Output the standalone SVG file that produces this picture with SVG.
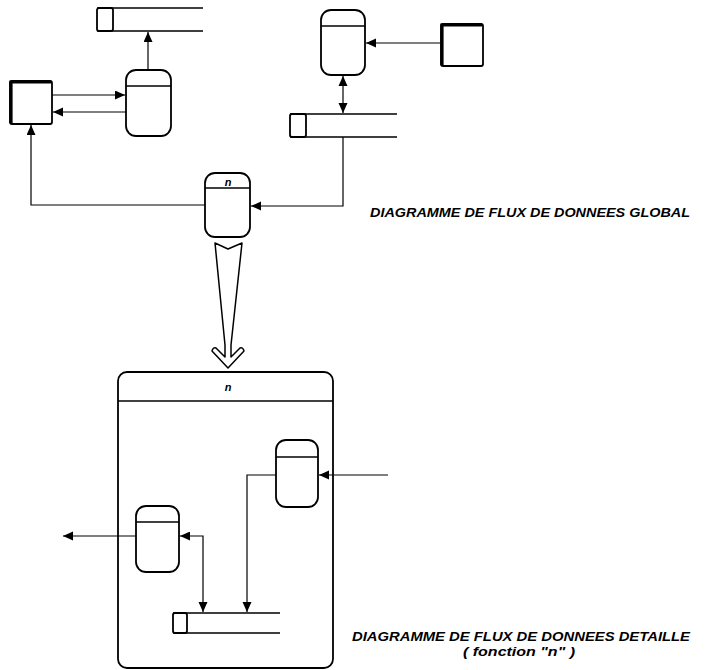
<svg xmlns="http://www.w3.org/2000/svg" width="710" height="670" viewBox="0 0 710 670">
<style>
.shape{fill:#fff;stroke:#000;stroke-width:1.8}
.div{stroke:#000;stroke-width:1.4;fill:none}
.conn{fill:none;stroke:#000;stroke-width:1.2}
.lbl{font-family:"Liberation Sans",Arial,sans-serif;font-style:italic;font-weight:bold;fill:#000}
</style>
<defs>
<marker id="ah" markerUnits="userSpaceOnUse" markerWidth="12" markerHeight="10" refX="10" refY="4.5" orient="auto">
<path d="M0,0 L10,4.5 L0,9 Z" fill="#000"/>
</marker>
<marker id="ahs" markerUnits="userSpaceOnUse" markerWidth="12" markerHeight="10" refX="0" refY="4.5" orient="auto">
<path d="M10,0 L0,4.5 L10,9 Z" fill="#000"/>
</marker>
</defs>
<rect width="710" height="670" fill="#fff"/>

<g id="function-n">
<rect x="118" y="372" width="215" height="296" rx="9" fill="none" stroke="#000" stroke-width="1.8"/>
<path class="div" d="M118,401 H333" stroke-width="1.8"/>
<text class="lbl" x="228" y="391" font-size="11" text-anchor="middle">n</text>
</g>

<g id="connectors">
<path class="conn" d="M148,70 V32" marker-end="url(#ah)"/>
<path class="conn" d="M52,95 H125" marker-end="url(#ah)"/>
<path class="conn" d="M126,112 H53" marker-end="url(#ah)"/>
<path class="conn" d="M205,205 H31 V125" marker-end="url(#ah)"/>
<path class="conn" d="M343,137 V206 H251" marker-end="url(#ah)"/>
<path class="conn" d="M441,43 H366" marker-end="url(#ah)"/>
<path class="conn" d="M343,76 V113" marker-start="url(#ahs)" marker-end="url(#ah)"/>
<path class="conn" d="M388,475 H319" marker-end="url(#ah)"/>
<path class="conn" d="M276,475 H247 V612" marker-end="url(#ah)"/>
<path class="conn" d="M136,536 H63" marker-end="url(#ah)"/>
<path class="conn" d="M180,536 H203 V612" marker-start="url(#ahs)" marker-end="url(#ah)"/>
</g>

<g id="store1">
<rect class="shape" x="97" y="8" width="16" height="23" rx="2"/>
<path class="div" d="M97,8 H203 M97,31 H203"/>
</g>

<g id="process1">
<rect class="shape" x="126" y="70" width="45" height="66" rx="10"/>
<path class="div" d="M126,86 H171"/>
</g>

<g id="entity1">
<rect class="shape" x="10" y="81" width="42" height="43" rx="2"/>
<path d="M11,123 V82 H51" fill="none" stroke="#000" stroke-width="3.2"/>
</g>

<g id="process2">
<rect class="shape" x="321" y="10" width="44" height="65" rx="10"/>
<path class="div" d="M321,26 H365"/>
</g>

<g id="entity2">
<rect class="shape" x="441" y="24" width="42" height="42" rx="2"/>
<path d="M442,65 V25 H482" fill="none" stroke="#000" stroke-width="3.2"/>
</g>

<g id="store2">
<rect class="shape" x="290" y="114" width="16" height="23" rx="2"/>
<path class="div" d="M290,114 H397 M290,137 H397"/>
</g>

<g id="process-n">
<rect class="shape" x="205" y="173" width="45" height="64" rx="10"/>
<path class="div" d="M205,188 H250"/>
<text class="lbl" x="228" y="186" font-size="11" text-anchor="middle">n</text>
</g>

<g id="refinement-arrow">
<path d="M215,243 L228,249 L242,243 L231,345 L231,357 L240,348 Q243,347 244,351 L228,368 L212,351 Q213,347 216,348 L225,357 L225,345 Z" fill="#fff" stroke="#000" stroke-width="1.5" stroke-linejoin="round"/>
</g>

<g id="process3">
<rect class="shape" x="276" y="440" width="42" height="67" rx="10"/>
<path class="div" d="M276,457 H318"/>
</g>

<g id="process4">
<rect class="shape" x="136" y="506" width="43" height="66" rx="10"/>
<path class="div" d="M136,522 H179"/>
</g>

<g id="store3">
<rect class="shape" x="173" y="613" width="14" height="20" rx="2"/>
<path class="div" d="M173,613 H280 M173,633 H280"/>
</g>

<g id="captions">
<text class="lbl" x="370" y="217" font-size="13" textLength="320" lengthAdjust="spacingAndGlyphs">DIAGRAMME DE FLUX DE DONNEES GLOBAL</text>
<text class="lbl" x="352" y="641" font-size="13" textLength="338" lengthAdjust="spacingAndGlyphs">DIAGRAMME DE FLUX DE DONNEES DETAILLE</text>
<text class="lbl" x="463" y="656" font-size="13" textLength="112" lengthAdjust="spacingAndGlyphs">( fonction "n" )</text>
</g>
</svg>
